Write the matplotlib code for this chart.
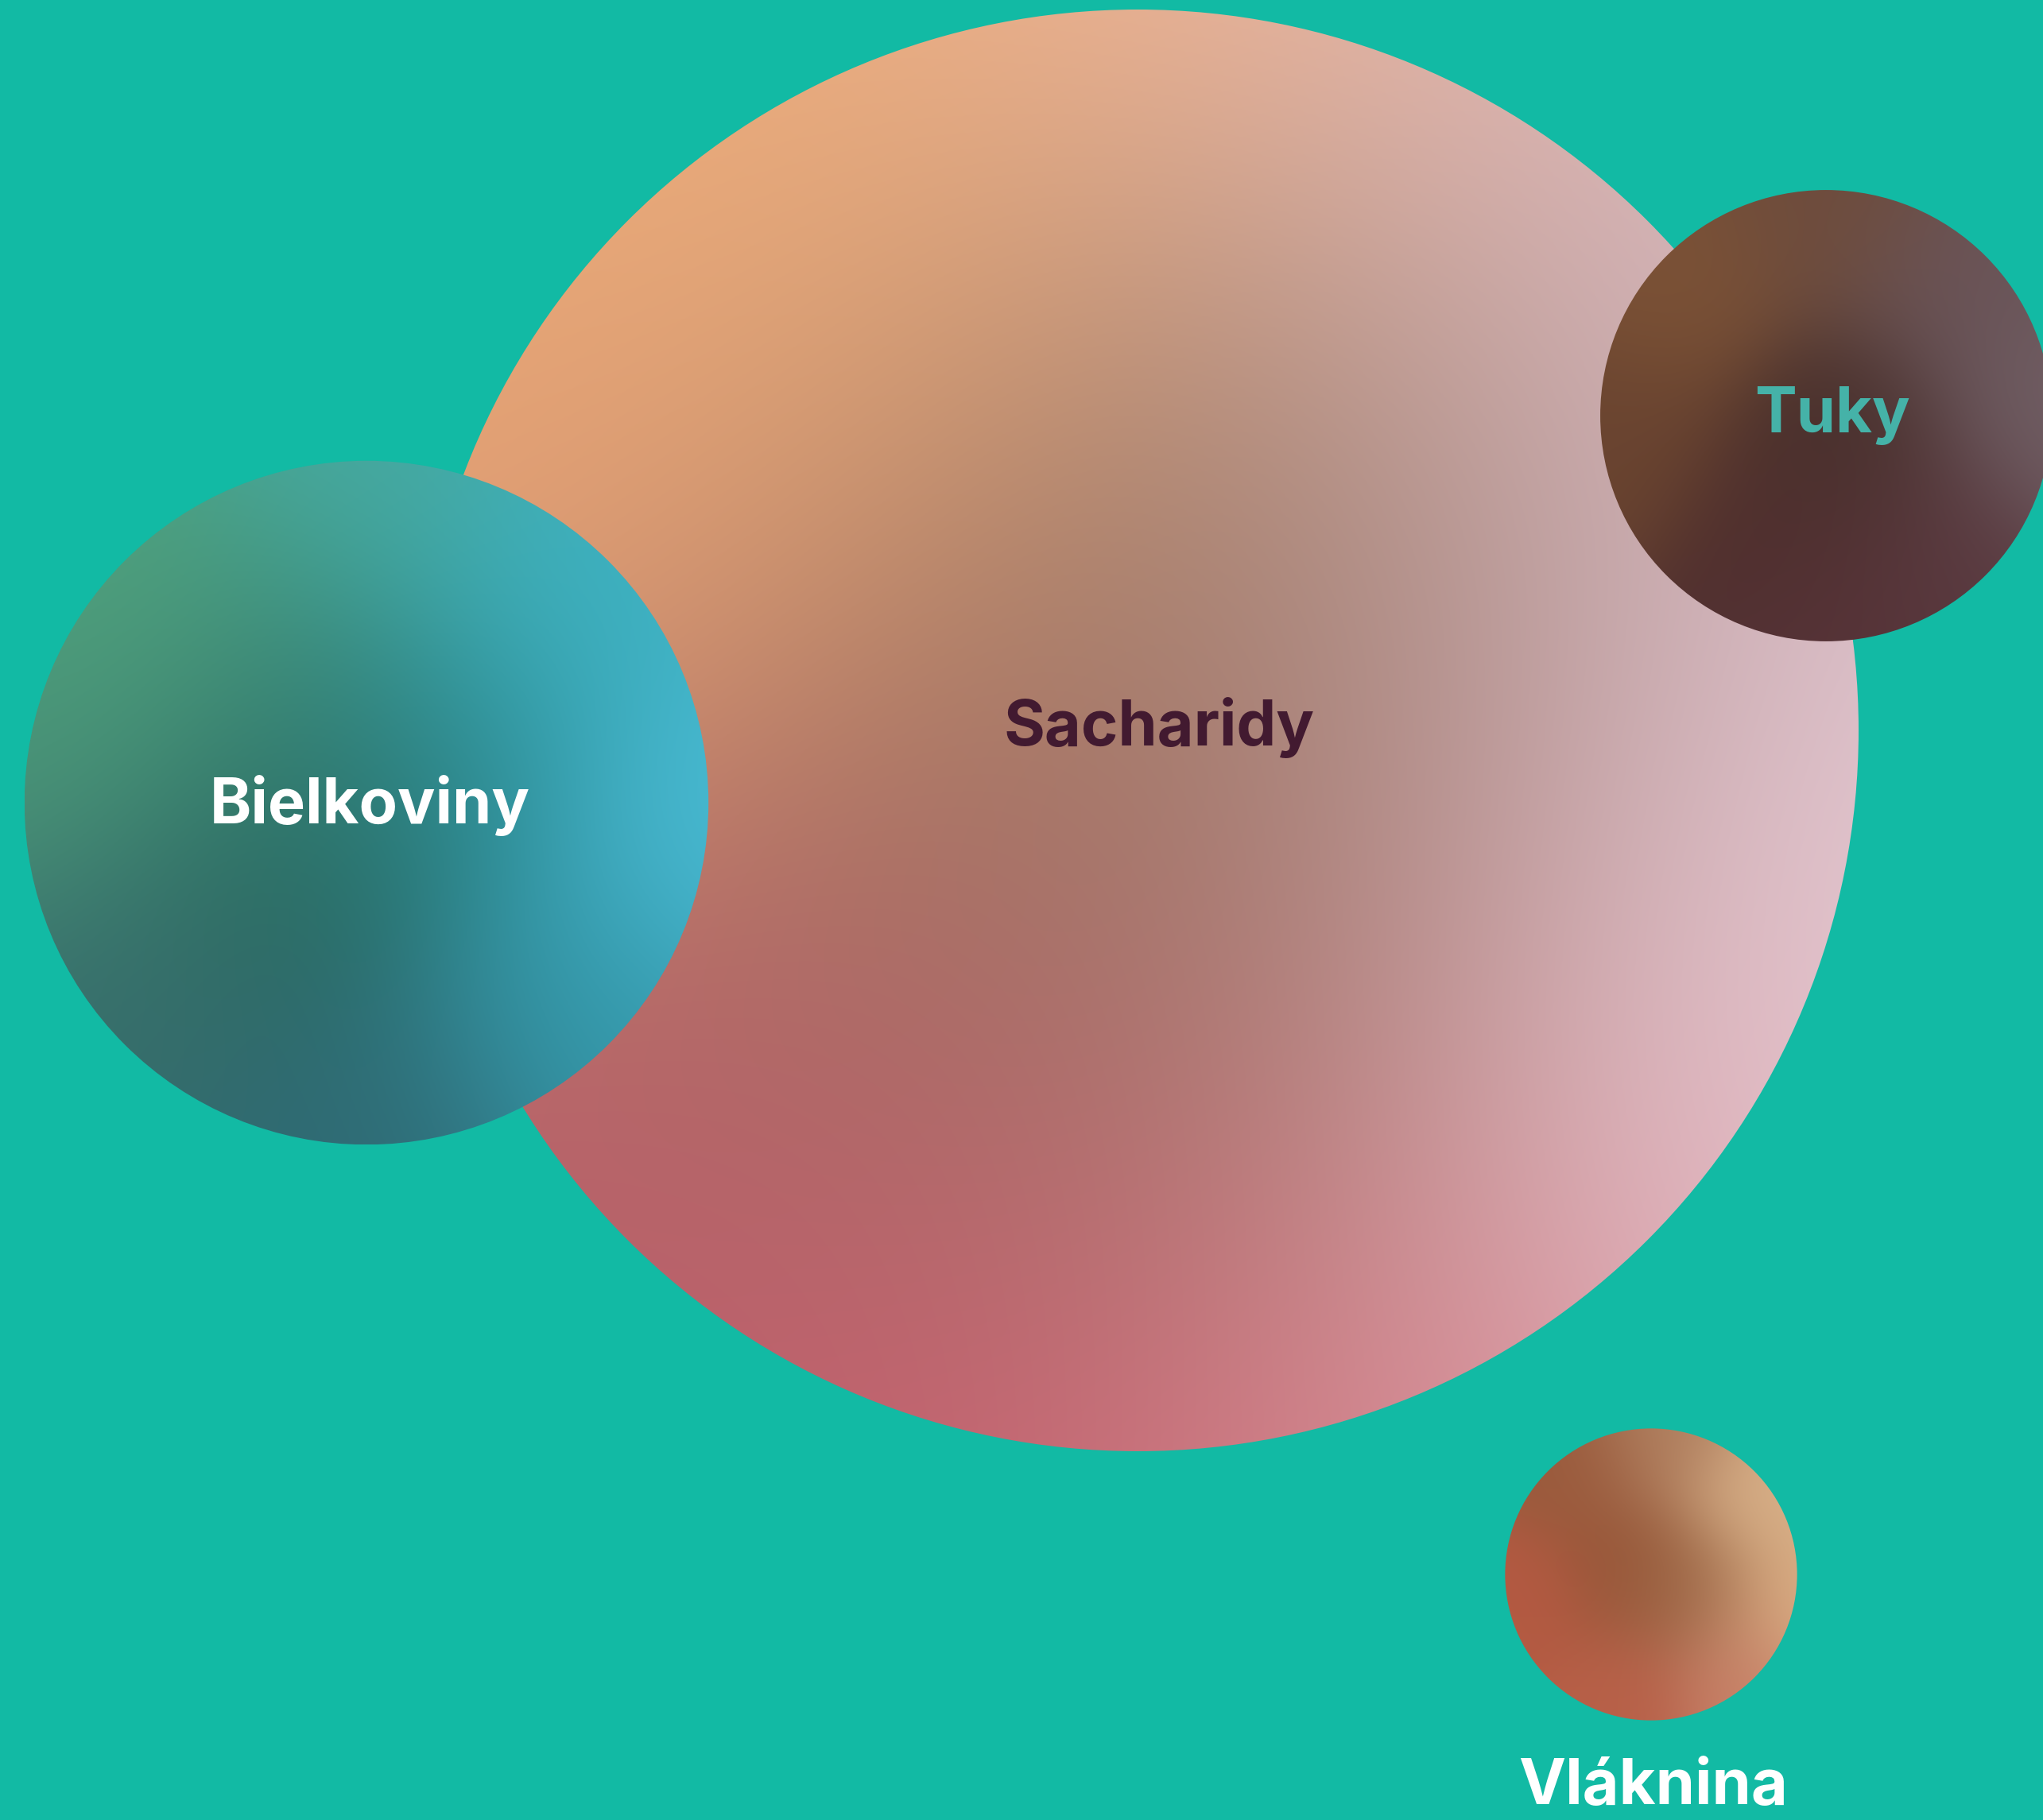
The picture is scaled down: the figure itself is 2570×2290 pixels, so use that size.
import numpy as np
import matplotlib.pyplot as plt
from matplotlib.patches import Circle
from matplotlib.colors import to_rgb

# nutrient bubbles: area ~ relative share
categories = ['Sacharidy', 'Bielkoviny', 'Tuky', 'Vláknina']
values = [100, 22.5, 9.8, 4.1]

# bubble centres (layout in pixel-like data units)
x_pos = [1431, 461, 2297, 2077]
y_pos = [919, 1010, 523, 1981]

# label anchors (centre x, baseline y)
label_x = [1458, 465, 2305, 2080]
label_y = [938, 1036, 544, 2270]

W, H = 2570, 2290
R_MAX = 907
bg = '#12baa4'

# gradient control points per bubble: (u, v) in unit circle, v down
grad = {
    'Sacharidy': [
        ((-0.55, -0.7), '#f5b27c'), ((0.0, -0.97), '#f3b896'),
        ((0.5, -0.75), '#e4bcbc'), ((0.85, -0.4), '#d8bcc8'),
        ((0.97, 0.1), '#ead0da'), ((0.75, 0.55), '#e6c0ca'),
        ((0.3, 0.9), '#d88690'), ((-0.3, 0.88), '#cc5e70'),
        ((-0.75, 0.45), '#b8606a'), ((-0.92, -0.25), '#eca676'),
        ((-0.6, -0.2), '#d09470'), ((-0.25, -0.5), '#d09a72'),
        ((0.15, -0.3), '#94725c'), ((0.0, -0.05), '#956e5c'),
        ((-0.25, 0.25), '#9a685a'), ((0.1, 0.4), '#ab7a72'),
        ((0.45, 0.05), '#c4a0a6'), ((0.45, -0.35), '#b49c9c'),
        ((-0.35, 0.55), '#b06468'),
    ],
    'Bielkoviny': [
        ((-0.7, -0.6), '#52a47e'), ((0.0, -0.92), '#46aaa0'),
        ((0.6, -0.6), '#3eb2c2'), ((0.95, 0.05), '#4abcd6'),
        ((0.6, 0.6), '#3498aa'), ((0.0, 0.92), '#2f6a74'),
        ((-0.7, 0.5), '#386e6c'), ((-0.92, -0.1), '#4a9478'),
        ((-0.2, 0.2), '#27665c'), ((0.25, -0.1), '#2a8a92'),
        ((-0.3, -0.3), '#3a8270'),
    ],
    'Tuky': [
        ((-0.7, -0.6), '#7c5236'), ((-0.92, 0.1), '#6a4430'),
        ((0.0, -0.92), '#6e4c3c'), ((0.6, -0.6), '#6a5458'),
        ((0.95, 0.0), '#705e64'), ((0.1, 0.1), '#48302c'),
        ((-0.2, 0.6), '#4e2e2c'), ((0.5, 0.6), '#5a3a40'),
        ((0.0, 0.95), '#58343a'),
    ],
    'Vláknina': [
        ((-0.9, 0.2), '#b45a42'), ((-0.5, -0.7), '#9a5a3c'),
        ((0.1, -0.9), '#b08060'), ((0.7, -0.5), '#d8b088'),
        ((0.95, 0.2), '#dcb086'), ((0.6, 0.7), '#c88068'),
        ((-0.2, 0.8), '#b86048'), ((-0.1, 0.0), '#955436'),
        ((0.3, 0.1), '#a0704e'),
    ],
}
text_colors = ['#421a30', '#ffffff', '#45b2a8', '#ffffff']


def blend(points, n=320, sigma=0.33):
    u = np.linspace(-1, 1, n)
    U, V = np.meshgrid(u, u)
    acc = np.zeros((n, n, 3))
    wsum = np.zeros((n, n))
    for (pu, pv), c in points:
        w = np.exp(-((U - pu) ** 2 + (V - pv) ** 2) / (2 * sigma ** 2))
        acc += w[..., None] * np.array(to_rgb(c))
        wsum += w
    return np.clip(acc / wsum[..., None], 0, 1)


fig = plt.figure(figsize=(W / 100, H / 100), dpi=100)
fig.patch.set_facecolor(bg)
ax = fig.add_axes([0, 0, 1, 1])
ax.set_facecolor(bg)
ax.set_xlim(0, W)
ax.set_ylim(H, 0)
ax.set_aspect('equal')
ax.axis('off')

plt.rcParams['font.family'] = ['Inter', 'DejaVu Sans']

vmax = max(values)
for i, name in enumerate(categories):
    r = R_MAX * np.sqrt(values[i] / vmax)
    cx, cy = x_pos[i], y_pos[i]
    img = blend(grad[name])
    circ = Circle((cx, cy), r, facecolor='none', edgecolor='none',
                  zorder=2 + i)
    ax.add_patch(circ)
    im = ax.imshow(img, extent=(cx - r, cx + r, cy + r, cy - r),
                   origin='upper', interpolation='bilinear', zorder=2 + i)
    im.set_clip_path(circ)

for i, name in enumerate(categories):
    ax.text(label_x[i], label_y[i], name, ha='center', va='baseline',
            fontsize=57, fontweight='bold', color=text_colors[i],
            family=['Inter', 'DejaVu Sans'], zorder=10)

fig.savefig('out.png', dpi=100, facecolor=bg)
